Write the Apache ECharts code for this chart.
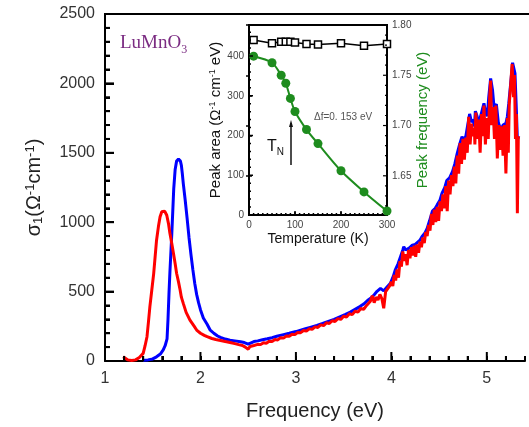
<!DOCTYPE html>
<html>
<head>
<meta charset="utf-8">
<script src="https://cdn.jsdelivr.net/npm/echarts@6/dist/echarts.min.js"></script>
</head>
<body style="margin:0">
<div id="chart" style="width:529px;height:427px"></div>
<script>
// main spectrum, blue curve (photon energy eV, sigma_1)
var blueE = [1.40,1.45,1.50,1.54,1.58,1.61,1.63,1.65,1.66,1.67,1.68,1.69,1.70,1.71,1.72,1.735,1.75,1.77,1.79,1.80,1.81,1.82,1.84,1.86,1.88,1.90,1.92,1.94,1.96,1.98,2.00,2.03,2.07,2.10,2.14,2.18,2.21,2.26,2.31,2.36,2.42,2.46,2.50,2.52,2.56,2.60,2.65,2.70,2.75,2.80,2.87,2.93,3.00,3.05,3.10,3.15,3.22,3.28,3.34,3.40,3.46,3.52,3.57,3.62,3.67,3.71,3.75,3.79,3.82,3.85,3.886,3.92,3.95,3.99,4.02,4.04,4.07,4.095,4.12,4.13,4.15,4.166,4.19,4.22,4.25,4.27,4.30,4.32,4.35,4.375,4.40,4.43,4.46,4.48,4.51,4.53,4.56,4.58,4.61,4.64,4.665,4.69,4.715,4.74,4.76,4.78,4.80,4.82,4.84,4.855,4.87,4.88,4.90,4.92,4.945,4.97,4.99,5.005,5.02,5.04,5.06,5.075,5.09,5.10,5.12,5.145,5.17,5.20,5.215,5.23,5.25,5.27,5.285,5.295,5.31,5.32,5.335];
var blueS = [5,8,15,30,50,80,110,160,300,480,640,780,920,1080,1240,1380,1440,1455,1440,1410,1350,1280,1160,1030,890,770,660,560,480,420,370,310,265,225,200,180,170,158,150,145,138,133,122,130,140,145,153,160,168,178,190,200,212,222,232,242,256,270,285,300,318,336,352,372,392,410,436,456,478,502,523,505,530,560,610,655,700,750,800,823,800,787,815,835,840,847,870,895,920,955,1010,1080,1100,1125,1160,1208,1250,1300,1320,1364,1420,1496,1560,1616,1590,1620,1700,1780,1720,1740,1690,1800,1760,1724,1790,1856,1780,1765,1900,2036,1950,1832,1820,1850,1720,1664,1700,1712,1760,1856,2000,2149,2140,2072,1800,1592,1620];

// main spectrum, red curve
var redE = [1.19,1.21,1.24,1.28,1.32,1.36,1.40,1.42,1.44,1.455,1.47,1.49,1.51,1.525,1.54,1.56,1.577,1.595,1.61,1.625,1.647,1.665,1.68,1.70,1.717,1.735,1.75,1.77,1.787,1.80,1.82,1.85,1.89,1.93,1.96,2.00,2.04,2.07,2.12,2.16,2.21,2.26,2.31,2.36,2.40,
  2.44,2.47,2.50,2.52,2.54,2.56,2.58,2.60,2.63,2.66,2.69,2.72,2.75,2.78,2.81,2.84,2.87,2.90,2.93,2.96,2.99,3.02,3.05,3.08,3.11,3.14,3.17,3.20,3.23,3.26,3.29,3.32,3.35,3.38,3.41,3.44,3.47,3.50,3.53,3.56,3.59,3.62,3.65,3.68,3.71,3.74,3.76,3.78,3.80,3.82,3.84,3.86,3.88,3.90,3.92,3.94,3.96,3.98,
  4.00,4.015,4.03,4.045,4.06,4.075,4.09,4.105,4.12,4.135,4.15,4.165,4.18,4.195,4.21,4.225,4.24,4.255,4.27,4.285,4.30,4.315,4.33,4.345,4.36,4.375,4.39,4.405,4.42,4.435,4.45,4.465,4.48,4.495,4.51,4.525,4.54,4.555,4.57,4.585,4.60,4.615,4.63,4.645,4.66,4.675,4.69,4.705,4.72,4.735,4.75,4.765,4.78,4.795,4.81,4.825,4.84,4.855,4.87,4.875,4.885,4.90,4.915,4.93,4.945,4.96,4.97,4.985,5.00,5.015,5.03,5.04,5.05,5.065,5.08,5.095,5.11,5.125,5.14,5.155,5.17,5.185,5.20,5.215,5.225,5.235,5.25,5.265,5.28,5.29,5.30,5.31,5.32,5.33];
var redS = [30,20,8,4,8,25,55,110,175,280,390,510,630,750,870,970,1040,1075,1088,1080,1050,990,920,845,776,700,632,570,512,460,415,350,295,255,223,200,185,175,162,155,148,140,133,125,118,
  112,100,85,105,95,112,100,120,118,132,128,142,140,155,152,168,165,180,178,193,190,206,204,220,215,232,228,246,242,260,255,275,270,290,285,305,300,322,316,340,334,358,352,378,372,400,395,430,470,420,460,440,480,450,380,500,490,540,
  570,540,620,580,660,600,720,680,790,720,770,690,800,740,820,760,830,750,840,780,860,820,890,850,930,900,980,940,1060,980,1090,1000,1110,1010,1150,1080,1200,1100,1260,1080,1300,1200,1340,1260,1400,1280,1480,1350,1570,1420,1600,1450,1610,1500,1760,1560,1710,1620,1680,1560,1790,1600,1740,1500,1780,1620,1840,1560,1750,1600,1900,2020,1700,1830,1600,1840,1460,1700,1520,1690,1480,1700,1352,1750,1500,1850,1990,2140,1900,2060,1600,1780,1064,1620];

// inset: temperature (K), peak area, peak frequency
var insetT = [10,50,70,80,90,100,125,150,200,250,300];
var peakArea = [440,432,436,436,436,434,430,429,432,426,430];
var peakFreq = [1.769,1.7625,1.750,1.742,1.727,1.714,1.696,1.682,1.655,1.634,1.615];

function pairs(xs, ys) {
  return xs.map(function (x, i) { return [x, ys[i]]; });
}
function isMult(v, step) {
  var r = v / step;
  return Math.abs(r - Math.round(r)) < 1e-6;
}
function steps(from, to, step) {
  var out = [];
  for (var k = 0; from + k * step <= to + 1e-9; k++) out.push(+(from + k * step).toFixed(4));
  return out;
}

var FONT = '"Liberation Sans", Arial, sans-serif';
var GREEN = '#1e8c1e';
var LINE = { show: true, lineStyle: { color: '#000', width: 2 } };
var TICK = { show: true, inside: true, length: 5, lineStyle: { color: '#000', width: 2 } };
var SMALL_TICK = { show: true, inside: true, length: 3, lineStyle: { color: '#000', width: 1.5 } };

var chart = echarts.init(document.getElementById('chart'));

chart.setOption({
  animation: false,
  grid: [
    { left: 105, top: 14, right: 4, bottom: 66 },
    { left: 249, top: 25, width: 138, height: 190, show: true, borderColor: '#000', borderWidth: 2, backgroundColor: '#fff' },
    { left: 249, top: 25, width: 138, height: 190 }
  ],
  xAxis: [
    {
      type: 'value', gridIndex: 0, min: 1, max: 5.4, interval: 0.2,
      axisLine: LINE, axisTick: TICK,
      axisLabel: {
        fontSize: 16, color: '#333', margin: 10, fontFamily: FONT,
        formatter: function (v) { return isMult(v, 1) ? String(Math.round(v)) : ''; }
      },
      splitLine: { show: false },
      name: 'Frequency (eV)', nameLocation: 'middle', nameGap: 40,
      nameTextStyle: { fontSize: 20, color: '#222', fontFamily: FONT }
    },
    {
      type: 'value', gridIndex: 1, min: 0, max: 300, interval: 100,
      axisLine: LINE, axisTick: SMALL_TICK,
      axisLabel: { fontSize: 10, color: '#444', margin: 5, fontFamily: FONT },
      splitLine: { show: false },
      name: 'Temperature (K)', nameLocation: 'middle', nameGap: 17,
      nameTextStyle: { fontSize: 14, color: '#111', fontFamily: FONT }
    },
    { type: 'value', gridIndex: 2, min: 0, max: 300, show: false }
  ],
  yAxis: [
    {
      type: 'value', gridIndex: 0, min: 0, max: 2500, interval: 500,
      axisLine: LINE, axisTick: { show: true, inside: true, length: 9, lineStyle: { color: '#000', width: 2 } },
      minorTick: { show: true, splitNumber: 5, length: 5, lineStyle: { color: '#000', width: 2 } },
      axisLabel: { fontSize: 16, color: '#333', margin: 10, fontFamily: FONT, formatter: function (v) { return String(v); } },
      splitLine: { show: false },
      name: 'σ{sub|1}(Ω{sup|-1}cm{sup|-1})', nameLocation: 'middle', nameRotate: 90, nameGap: 60,
      nameTextStyle: {
        fontSize: 20, color: '#222', fontFamily: FONT,
        rich: {
          sub: { fontSize: 13, color: '#222', fontFamily: FONT, verticalAlign: 'bottom', padding: [8, 0, 0, 0] },
          sup: { fontSize: 13, color: '#222', fontFamily: FONT, verticalAlign: 'top', padding: [0, 0, 8, 0] }
        }
      }
    },
    {
      type: 'value', gridIndex: 1, min: 0, max: 478, interval: 100,
      axisLine: LINE, axisTick: SMALL_TICK,
      axisLabel: { fontSize: 10, color: '#444', margin: 5, showMaxLabel: false, fontFamily: FONT },
      splitLine: { show: false },
      name: 'Peak area (Ω{sup|-1} cm{sup|-1} eV)', nameLocation: 'middle', nameRotate: 90, nameGap: 22,
      nameTextStyle: {
        fontSize: 15, color: '#111', fontFamily: FONT,
        rich: { sup: { fontSize: 9, color: '#111', fontFamily: FONT, verticalAlign: 'top', padding: [0, 0, 6, 0] } }
      }
    },
    {
      type: 'value', gridIndex: 2, position: 'right', min: 1.611, max: 1.80, splitNumber: 4,
      axisLine: LINE, axisTick: SMALL_TICK,
      axisLabel: {
        fontSize: 10, color: '#444', margin: 5, showMinLabel: false, fontFamily: FONT,
        formatter: function (v) { return v.toFixed(2); }
      },
      splitLine: { show: false },
      name: 'Peak frequency (eV)', nameLocation: 'middle', nameRotate: 90, nameGap: 28,
      nameTextStyle: { fontSize: 15, color: GREEN, fontFamily: FONT }
    }
  ],
  series: [
    {
      type: 'line', xAxisIndex: 0, yAxisIndex: 0, data: pairs(blueE, blueS),
      showSymbol: false, lineStyle: { color: '#0000ff', width: 3 }
    },
    {
      type: 'line', xAxisIndex: 0, yAxisIndex: 0, data: pairs(redE, redS),
      showSymbol: false, lineStyle: { color: '#ff0000', width: 3 }
    },
    {
      type: 'line', xAxisIndex: 1, yAxisIndex: 1, data: pairs(insetT, peakArea),
      symbol: 'rect', symbolSize: 7,
      itemStyle: { color: '#fff', borderColor: '#000', borderWidth: 1.5 },
      lineStyle: { color: '#000', width: 1.5 }
    },
    {
      type: 'line', xAxisIndex: 2, yAxisIndex: 2, data: pairs(insetT, peakFreq),
      symbol: 'circle', symbolSize: 9, smooth: 0.3,
      itemStyle: { color: GREEN },
      lineStyle: { color: GREEN, width: 2 }
    }
  ]
});

// text annotations
var marks = [
  {
    type: 'text', left: 120, top: 34,
    style: {
      text: 'LuMnO{s|3}', fill: '#7b2c82', fontSize: 19, fontFamily: '"Liberation Serif", "Times New Roman", serif',
      rich: { s: { fontSize: 12, fill: '#7b2c82', verticalAlign: 'bottom', padding: [12, 0, 0, 0], fontFamily: '"Liberation Serif", serif' } }
    }
  },
  {
    type: 'text', left: 267, top: 139,
    style: {
      text: 'T{s|N}', fill: '#111', fontSize: 16, fontFamily: FONT,
      rich: { s: { fontSize: 10, fill: '#111', fontFamily: FONT, verticalAlign: 'bottom', padding: [10, 0, 0, 0] } }
    }
  },
  { type: 'line', shape: { x1: 291, y1: 123, x2: 291, y2: 165 }, style: { stroke: '#111', lineWidth: 1.5 } },
  { type: 'polygon', shape: { points: [[289, 127], [293, 127], [291, 120]] }, style: { fill: '#111' } },
  { type: 'text', left: 314, top: 112, style: { text: 'Δf=0. 153 eV', fill: '#555', fontSize: 10, fontFamily: FONT } }
];

// inward tick marks as small filled bars, placed through the axes' own scales
function barsX(xi, yi, yAt, vals, step, bigLen, smallLen, w) {
  var y0 = chart.convertToPixel({ yAxisIndex: yi }, yAt);
  vals.forEach(function (v) {
    var x = chart.convertToPixel({ xAxisIndex: xi }, v);
    var len = isMult(v, step) ? bigLen : smallLen;
    marks.push({ type: 'rect', z: 100, shape: { x: x - w / 2, y: y0 - len, width: w, height: len }, style: { fill: '#000' } });
  });
}
function barsY(yi, xi, xAt, dir, vals, step, bigLen, smallLen, w) {
  var x0 = chart.convertToPixel({ xAxisIndex: xi }, xAt);
  vals.forEach(function (v) {
    var y = chart.convertToPixel({ yAxisIndex: yi }, v);
    var len = isMult(v, step) ? bigLen : smallLen;
    marks.push({ type: 'rect', z: 100, shape: { x: dir > 0 ? x0 : x0 - len, y: y - w / 2, width: len, height: w }, style: { fill: '#000' } });
  });
}

barsX(0, 0, 0, steps(1.2, 5.4, 0.2), 1, 9, 5, 2);
barsY(0, 0, 1, 1, steps(100, 2400, 100), 500, 9, 5, 2);
barsX(1, 1, 0, steps(10, 290, 10), 100, 4, 2, 1.5);
barsY(1, 1, 0, 1, steps(20, 460, 20), 100, 4, 2, 1.5);
barsY(2, 2, 300, -1, steps(1.62, 1.79, 0.01), 0.05, 4, 2, 1.2);

// top frame line of the main plot, running off the right edge
var topY = chart.convertToPixel({ yAxisIndex: 0 }, 2500);
var leftX = chart.convertToPixel({ xAxisIndex: 0 }, 1);
marks.push({ type: 'line', z: 100, shape: { x1: leftX - 1, y1: topY, x2: 529, y2: topY }, style: { stroke: '#000', lineWidth: 2 } });

chart.setOption({ graphic: { elements: marks } });
</script>
</body>
</html>
